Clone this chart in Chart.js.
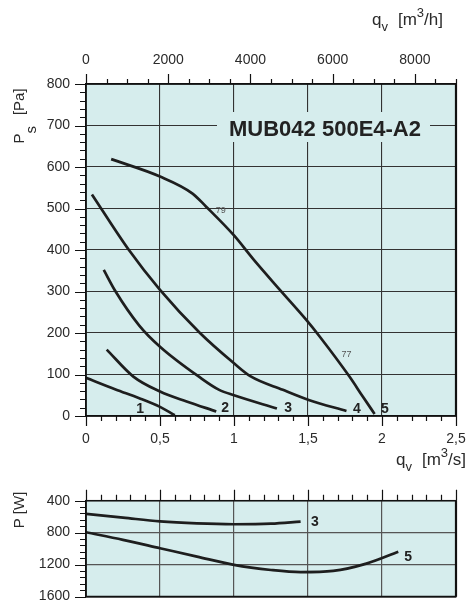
<!DOCTYPE html>
<html><head><meta charset="utf-8">
<script src="https://cdn.jsdelivr.net/npm/chart.js@4.4.1/dist/chart.umd.min.js"></script>
<style>
html,body{margin:0;padding:0;background:#fff;width:467px;height:602px;overflow:hidden}
.box{position:absolute;left:0;width:467px}
</style></head><body>
<div class="box" style="top:0;height:480px"><canvas id="c1"></canvas></div>
<div class="box" style="top:480px;height:150px"><canvas id="c2"></canvas></div>
<script>
// ---- tick values / labels ----
const qTicks = [0, 0.5, 1, 1.5, 2, 2.5];
const qTickLabels = ['0', '0,5', '1', '1,5', '2', '2,5'];
const qhTicks = [0, 2000, 4000, 6000, 8000];
const qhTickLabels = ['0', '2000', '4000', '6000', '8000'];
const psTicks = [0, 100, 200, 300, 400, 500, 600, 700, 800];
const pTicks = [400, 800, 1200, 1600];

// ---- fan curves: static pressure Ps [Pa] vs qv [m3/s] ----
const curve1Q  = [0, 0.2, 0.36, 0.5, 0.6];
const curve1Ps = [92, 64, 43, 22, 2];
const curve2Q  = [0.14, 0.32, 0.5, 0.68, 0.88];
const curve2Ps = [160, 95, 59, 35, 11];
const curve3Q  = [0.12, 0.2, 0.36, 0.5, 0.77, 0.9, 1.0, 1.29];
const curve3Ps = [352, 300, 218, 167, 93, 63, 50, 18];
const curve4Q  = [0.04, 0.29, 0.5, 0.77, 1.0, 1.11, 1.33, 1.51, 1.76];
const curve4Ps = [534, 400, 304, 200, 127, 96, 63, 38, 12];
const curve5Q  = [0.17, 0.5, 0.72, 0.81, 1.0, 1.13, 1.31, 1.49, 1.58, 1.78, 1.87, 1.95];
const curve5Ps = [619, 577, 536, 505, 435, 378, 304, 231, 191, 95, 47, 5];
const curveNames = ['1', '2', '3', '4', '5'];

// ---- power curves: P [W] vs qv [m3/s] ----
const power3Q = [0, 0.25, 0.5, 0.75, 1.0, 1.25, 1.45];
const power3P = [565, 612, 660, 685, 695, 688, 662];
const power5Q = [0, 0.25, 0.5, 0.75, 1.0, 1.25, 1.45, 1.67, 1.9, 2.11];
const power5P = [795, 890, 995, 1100, 1204, 1268, 1295, 1280, 1185, 1040];
const powerNames = ['3', '5'];

const modelName = 'MUB042 500E4-A2';
const efficiencyLabels = ['79', '77'];

// label anchor points (data coordinates)
const curveLabelAt = [[0.365, 17], [0.94, 19], [1.365, 19], [1.83, 17], [2.02, 17]];
const effLabelAt = [[0.91, 495], [1.76, 149]];
const powerLabelAt = [[1.547, 666], [2.176, 1104]];

const FAM = "'Liberation Sans', Arial, Helvetica, sans-serif";
const TXT = '#2a2a2a';
const BG = '#d6eded';
const LINE = '#1e1e1e';

function pts(xs, ys) { return xs.map((x, i) => ({x: x, y: ys[i]})); }

function rich(ctx, parts, x, y, align) {
  let total = 0;
  parts.forEach(p => {
    ctx.font = (p.bold ? 'bold ' : '') + p.size + 'px ' + FAM;
    p.w = ctx.measureText(p.t).width;
    total += p.w + (p.gap || 0);
  });
  let cx = align === 'right' ? x - total : (align === 'center' ? x - total / 2 : x);
  ctx.textAlign = 'left';
  ctx.textBaseline = 'alphabetic';
  parts.forEach(p => {
    ctx.font = (p.bold ? 'bold ' : '') + p.size + 'px ' + FAM;
    cx += (p.gap || 0);
    ctx.fillText(p.t, cx, y + (p.dy || 0));
    cx += p.w;
  });
}

function lineDs(xs, ys, xid, yid) {
  return {
    data: pts(xs, ys), xAxisID: xid, yAxisID: yid,
    borderColor: LINE, borderWidth: 2.7, pointRadius: 0, fill: false,
    cubicInterpolationMode: 'monotone', borderCapStyle: 'butt'
  };
}

function tickFont() { return {family: FAM, size: 14}; }
// invisible tick marks used only to offset the labels
function offsetGrid(len, extra) {
  return Object.assign({drawTicks: true, tickLength: len, tickColor: 'rgba(0,0,0,0)'}, extra || {});
}

// ---------------- main chart ----------------
const mainPlugin = {
  id: 'mainDeco',
  beforeDraw(chart) {
    const {ctx, chartArea: a} = chart;
    ctx.save();
    ctx.fillStyle = BG;
    ctx.fillRect(a.left, a.top, a.right - a.left, a.bottom - a.top);
    ctx.restore();
  },
  beforeDatasetsDraw(chart) {
    const {ctx, chartArea: a} = chart;
    ctx.save();
    // title plate
    ctx.fillStyle = BG;
    ctx.fillRect(a.left + 131, a.top + 28, 213, 30);
    ctx.fillStyle = '#222';
    ctx.font = 'bold 22px ' + FAM;
    ctx.textAlign = 'center';
    ctx.textBaseline = 'middle';
    ctx.fillText(modelName, a.left + 239, a.top + 46);
    ctx.restore();
  },
  afterDraw(chart) {
    const {ctx, chartArea: a, scales} = chart;
    const x = scales.x, xt = scales.x2, y = scales.y;
    ctx.save();
    ctx.strokeStyle = '#111';
    ctx.lineWidth = 1.2;
    ctx.beginPath();
    // y ticks every 20 Pa
    for (let v = 0; v <= 800; v += 20) {
      const py = Math.round(y.getPixelForValue(v)) + 0.5;
      const len = v % 100 === 0 ? 11 : 6;
      ctx.moveTo(a.left - len, py); ctx.lineTo(a.left, py);
    }
    // bottom ticks every 0.1 m3/s
    for (let i = 0; i <= 25; i++) {
      const px = Math.round(x.getPixelForValue(i / 10)) + 0.5;
      const len = i % 5 === 0 ? 10 : 5;
      ctx.moveTo(px, a.bottom); ctx.lineTo(px, a.bottom + len);
    }
    // top ticks every 500 m3/h
    for (let v = 0; v <= 9000; v += 500) {
      const px = Math.round(xt.getPixelForValue(v)) + 0.5;
      const len = v % 2000 === 0 ? 10 : 5;
      ctx.moveTo(px, a.top); ctx.lineTo(px, a.top - len);
    }
    ctx.stroke();
    // frame
    ctx.lineWidth = 1.5;
    ctx.strokeRect(a.left, a.top, a.right - a.left, a.bottom - a.top);
    ctx.lineWidth = 2.2;
    ctx.beginPath(); ctx.moveTo(a.right, a.top); ctx.lineTo(a.right, a.bottom); ctx.stroke();

    // curve labels
    ctx.fillStyle = '#222';
    ctx.font = 'bold 14px ' + FAM;
    ctx.textAlign = 'center'; ctx.textBaseline = 'middle';
    curveNames.forEach((n, i) => {
      ctx.fillText(n, x.getPixelForValue(curveLabelAt[i][0]), y.getPixelForValue(curveLabelAt[i][1]));
    });
    ctx.fillStyle = '#555';
    ctx.font = '9px ' + FAM;
    efficiencyLabels.forEach((n, i) => {
      ctx.fillText(n, x.getPixelForValue(effLabelAt[i][0]), y.getPixelForValue(effLabelAt[i][1]));
    });

    // axis titles
    ctx.fillStyle = TXT;
    rich(ctx, [{t: 'q', size: 17}, {t: 'v', size: 13, dy: 6}, {t: '[m', size: 17, gap: 10},
               {t: '3', size: 13, dy: -8}, {t: '/h]', size: 17}], 372, 25, 'left');
    rich(ctx, [{t: 'q', size: 17}, {t: 'v', size: 13, dy: 6}, {t: '[m', size: 17, gap: 10},
               {t: '3', size: 13, dy: -8}, {t: '/s]', size: 17}], 466, 465, 'right');
    ctx.save();
    ctx.translate(23.5, 116);
    ctx.rotate(-Math.PI / 2);
    rich(ctx, [{t: 'P', size: 15}, {t: 's', size: 15, dy: 12}, {t: '[Pa]', size: 15, gap: 11}], 0, 0, 'center');
    ctx.restore();
    ctx.restore();
  }
};

new Chart(document.getElementById('c1'), {
  type: 'line',
  data: {
    datasets: [
      lineDs(curve1Q, curve1Ps, 'x', 'y'),
      lineDs(curve2Q, curve2Ps, 'x', 'y'),
      lineDs(curve3Q, curve3Ps, 'x', 'y'),
      lineDs(curve4Q, curve4Ps, 'x', 'y'),
      lineDs(curve5Q, curve5Ps, 'x', 'y')
    ]
  },
  options: {
    responsive: true, maintainAspectRatio: false, animation: false,
    layout: {padding: {left: 0, right: 11, top: 0, bottom: 0}},
    plugins: {legend: {display: false}, tooltip: {enabled: false}},
    scales: {
      x: {
        type: 'linear', position: 'bottom', min: 0, max: 2.5,
        afterBuildTicks: s => { s.ticks = qTicks.map(v => ({value: v})); },
        afterFit: s => { s.height = 64; },
        ticks: {font: tickFont(), color: TXT, padding: 0, maxRotation: 0, autoSkip: false,
                callback: (v, i) => qTickLabels[i]},
        grid: offsetGrid(14.5, {color: '#333', lineWidth: 1.1}),
        border: {color: '#111', width: 1.5}
      },
      x2: {
        type: 'linear', position: 'top', min: 0, max: 9000,
        afterBuildTicks: s => { s.ticks = qhTicks.map(v => ({value: v})); },
        afterFit: s => { s.height = 84; },
        ticks: {font: tickFont(), color: TXT, padding: 0, maxRotation: 0, autoSkip: false,
                callback: (v, i) => qhTickLabels[i]},
        grid: offsetGrid(15.5, {drawOnChartArea: false}),
        border: {color: '#111', width: 1.5}
      },
      y: {
        type: 'linear', position: 'left', min: 0, max: 800,
        afterBuildTicks: s => { s.ticks = psTicks.map(v => ({value: v})); },
        afterFit: s => { s.width = 86; },
        ticks: {font: tickFont(), color: TXT, padding: 0, autoSkip: false,
                callback: v => String(v)},
        grid: offsetGrid(16, {color: '#333', lineWidth: 1.1}),
        border: {color: '#111', width: 1.5}
      }
    }
  },
  plugins: [mainPlugin]
});

// ---------------- power chart ----------------
const powerPlugin = {
  id: 'powerDeco',
  beforeDraw(chart) {
    const {ctx, chartArea: a} = chart;
    ctx.save();
    ctx.fillStyle = BG;
    ctx.fillRect(a.left, a.top, a.right - a.left, a.bottom - a.top);
    ctx.restore();
  },
  afterDraw(chart) {
    const {ctx, chartArea: a, scales} = chart;
    const x = scales.x, y = scales.y;
    ctx.save();
    ctx.strokeStyle = '#111';
    ctx.lineWidth = 1.2;
    ctx.beginPath();
    for (let v = 400; v <= 1600; v += 80) {
      const py = Math.round(y.getPixelForValue(v)) + 0.5;
      const len = v % 400 === 0 ? 11 : 6;
      ctx.moveTo(a.left - len, py); ctx.lineTo(a.left, py);
    }
    for (let i = 0; i <= 25; i++) {
      const px = Math.round(x.getPixelForValue(i / 10)) + 0.5;
      const len = i % 5 === 0 ? 11 : 6;
      ctx.moveTo(px, a.top); ctx.lineTo(px, a.top - len);
    }
    ctx.stroke();
    ctx.lineWidth = 1.5;
    ctx.strokeRect(a.left, a.top, a.right - a.left, a.bottom - a.top);
    ctx.lineWidth = 2.2;
    ctx.beginPath(); ctx.moveTo(a.right, a.top); ctx.lineTo(a.right, a.bottom); ctx.stroke();

    ctx.fillStyle = '#222';
    ctx.font = 'bold 14px ' + FAM;
    ctx.textAlign = 'center'; ctx.textBaseline = 'middle';
    powerNames.forEach((n, i) => {
      ctx.fillText(n, x.getPixelForValue(powerLabelAt[i][0]), y.getPixelForValue(powerLabelAt[i][1]));
    });
    ctx.fillStyle = TXT;
    ctx.save();
    ctx.translate(23.5, 30);
    ctx.rotate(-Math.PI / 2);
    rich(ctx, [{t: 'P [W]', size: 15}], 0, 0, 'center');
    ctx.restore();
    ctx.restore();
  }
};

new Chart(document.getElementById('c2'), {
  type: 'line',
  data: {
    datasets: [
      lineDs(power3Q, power3P, 'x', 'y'),
      lineDs(power5Q, power5P, 'x', 'y')
    ]
  },
  options: {
    responsive: true, maintainAspectRatio: false, animation: false,
    layout: {padding: {left: 0, right: 11, top: 20.7, bottom: 0}},
    plugins: {legend: {display: false}, tooltip: {enabled: false}},
    scales: {
      x: {
        type: 'linear', position: 'bottom', min: 0, max: 2.5,
        afterBuildTicks: s => { s.ticks = qTicks.map(v => ({value: v})); },
        afterFit: s => { s.height = 150 - 116.5; },
        ticks: {display: false, padding: 0},
        grid: {color: '#555', lineWidth: 1.2, drawTicks: false},
        border: {color: '#111', width: 1.5}
      },
      y: {
        type: 'linear', position: 'left', min: 400, max: 1600, reverse: true,
        afterBuildTicks: s => { s.ticks = pTicks.map(v => ({value: v})); },
        afterFit: s => { s.width = 86; },
        ticks: {font: tickFont(), color: TXT, padding: 0, autoSkip: false,
                callback: v => String(v)},
        grid: offsetGrid(16, {color: '#555', lineWidth: 1.2}),
        border: {color: '#111', width: 1.5}
      }
    }
  },
  plugins: [powerPlugin]
});
</script>
</body></html>
